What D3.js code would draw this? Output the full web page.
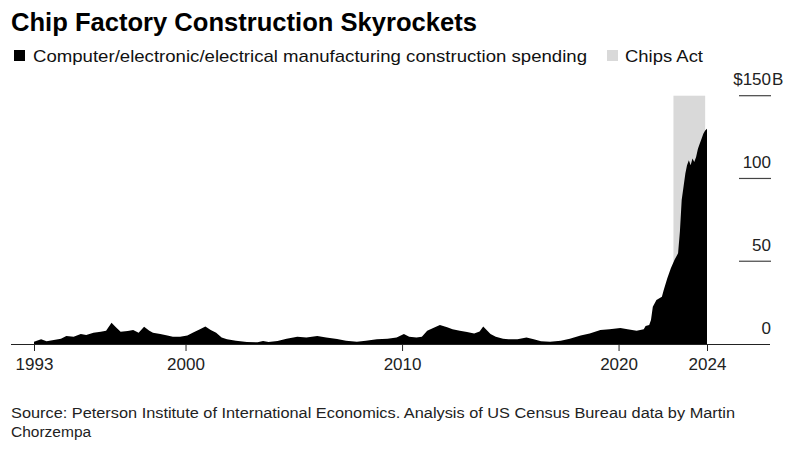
<!DOCTYPE html>
<html>
<head>
<meta charset="utf-8">
<script src="https://cdn.jsdelivr.net/npm/d3@7"></script>
<style>
  html, body { margin: 0; padding: 0; background: #fff; }
  svg { display: block; font-family: "Liberation Sans", Arial, Helvetica, sans-serif; }
</style>
</head>
<body>
<svg id="chart" width="800" height="456"></svg>
<script>
// ---- Data (monthly readings, $B) ----
const months = [
  "1993-01","1993-05","1993-08","1993-12","1994-04","1994-07","1994-11","1995-03","1995-06","1995-10",
  "1996-02","1996-05","1996-08","1996-10","1997-01","1997-05","1997-08","1997-11","1998-02","1998-05",
  "1998-07","1998-11","1999-03","1999-06","1999-10","2000-02","2000-05","2000-09","2000-12","2001-03",
  "2001-06","2001-09","2001-12","2002-05","2002-11","2003-05","2003-08","2003-11","2004-04","2004-09",
  "2005-03","2005-08","2006-02","2006-07","2007-01","2007-06","2007-12","2008-05","2008-11","2009-05",
  "2009-10","2010-02","2010-05","2010-09","2010-12","2011-03","2011-06","2011-10","2012-02","2012-05",
  "2012-09","2013-01","2013-05","2013-08","2013-10","2014-02","2014-05","2014-09","2014-12","2015-05",
  "2015-10","2016-02","2016-06","2016-11","2017-05","2017-10","2018-04","2018-09","2019-03","2019-08",
  "2020-02","2020-06","2020-11","2021-03","2021-04","2021-06","2021-07","2021-08","2021-10","2022-01",
  "2022-02","2022-04","2022-06","2022-08","2022-10","2022-11","2022-12","2023-01","2023-02","2023-03",
  "2023-04","2023-05","2023-06","2023-07","2023-08","2023-09","2023-10","2023-11","2023-12","2024-01",
  "2024-02"
];
const spending = [
  1.4, 2.8, 1.6, 2.4, 3.2, 4.8, 4.4, 6.0, 5.4, 6.8,
  7.4, 8.0, 12.9, 10.5, 7.4, 7.8, 8.4, 6.8, 10.4, 8.0,
  6.8, 6.0, 5.2, 4.4, 4.4, 5.2, 6.8, 8.9, 10.5, 8.4,
  6.8, 4.0, 2.8, 2.0, 1.2, 1.0, 1.8, 1.2, 1.8, 3.2,
  4.4, 4.0, 4.8, 4.0, 3.0, 2.0, 1.4, 2.0, 2.8, 3.2,
  4.0, 6.0, 4.4, 4.0, 4.4, 8.0, 9.5, 11.5, 10.1, 8.9,
  8.0, 7.2, 6.4, 7.6, 10.5, 6.0, 4.4, 3.2, 2.8, 2.8,
  4.0, 2.8, 1.6, 1.4, 2.0, 3.2, 5.2, 6.4, 8.4, 8.9,
  9.7, 8.9, 8.0, 8.9, 10.9, 11.5, 14.5, 22.5, 26.6, 28.6,
  32.6, 39.6, 45.7, 50.7, 54.8, 68, 87, 95, 103, 108,
  111, 108, 112, 110, 113, 118, 121, 124, 127, 129,
  130
];
const chipsAct = ["2022-07-15", "2024-01-01"];
const xTickDates = ["1993-01-01", "2000-01-01", "2010-01-01", "2020-01-01", "2024-02-01"];
const xTickLabels = ["1993", "2000", "2010", "2020", "2024"];
const yTicks = [0, 50, 100, 150];
const yTickLabels = ["0", "50", "100", "$150"];

const title = "Chip Factory Construction Skyrockets";
const legendLabels = ["Computer/electronic/electrical manufacturing construction spending", "Chips Act"];
const sourceLines = [
  "Source: Peterson Institute of International Economics. Analysis of US Census Bureau data by Martin",
  "Chorzempa"
];

// ---- Build ----
const parseM = d3.timeParse("%Y-%m");
const parseD = d3.timeParse("%Y-%m-%d");
const data = months.map((m, i) => ({ date: parseM(m), value: spending[i] }));

const svg = d3.select("#chart");

const x = d3.scaleTime()
  .domain([parseD("1993-01-01"), parseD("2024-02-01")])
  .range([34, 707]);
const y = d3.scaleLinear().domain([0, 150]).range([344, 95.7]);

// Title
svg.append("text")
  .attr("x", 11).attr("y", 31)
  .attr("font-size", 25).attr("font-weight", "bold")
  .attr("fill", "#000")
  .attr("textLength", 466).attr("lengthAdjust", "spacingAndGlyphs")
  .text(title);

// Legend
const lg = svg.append("g");
lg.append("rect").attr("x", 14).attr("y", 50).attr("width", 11).attr("height", 11).attr("fill", "#000");
lg.append("text").attr("x", 33).attr("y", 62).attr("font-size", 17).attr("fill", "#111")
  .attr("textLength", 554).attr("lengthAdjust", "spacingAndGlyphs")
  .text(legendLabels[0]);
lg.append("rect").attr("x", 607).attr("y", 50).attr("width", 11).attr("height", 11).attr("fill", "#d9d9d9");
lg.append("text").attr("x", 625).attr("y", 62).attr("font-size", 17).attr("fill", "#111")
  .attr("textLength", 78).attr("lengthAdjust", "spacingAndGlyphs")
  .text(legendLabels[1]);

// Chips Act shading
svg.append("rect")
  .attr("x", x(parseD(chipsAct[0])))
  .attr("y", y(150))
  .attr("width", x(parseD(chipsAct[1])) - x(parseD(chipsAct[0])))
  .attr("height", y(0) - y(150))
  .attr("fill", "#d9d9d9");

// Area
const area = d3.area()
  .x(d => x(d.date))
  .y0(y(0))
  .y1(d => y(d.value))
  .curve(d3.curveLinear);
svg.append("path").datum(data).attr("d", area).attr("fill", "#000");

// Y grid lines (short, right side) and labels
yTicks.forEach((t, i) => {
  if (t > 0) {
    svg.append("line")
      .attr("x1", 739).attr("x2", 771)
      .attr("y1", y(t)).attr("y2", y(t))
      .attr("stroke", "#444").attr("stroke-width", 1.2);
  }
  svg.append("text")
    .attr("x", 771).attr("y", y(t) - 10.5)
    .attr("font-size", 17).attr("fill", "#222")
    .attr("text-anchor", "end")
    .text(yTickLabels[i]);
  if (t === 150) {
    svg.append("text")
      .attr("x", 772).attr("y", y(t) - 10.5)
      .attr("font-size", 17).attr("fill", "#222")
      .text("B");
  }
});

// X axis baseline
svg.append("line")
  .attr("x1", 11).attr("x2", 770)
  .attr("y1", y(0) + 0.5).attr("y2", y(0) + 0.5)
  .attr("stroke", "#222").attr("stroke-width", 1);

// X axis ticks
const xAxis = d3.axisBottom(x)
  .tickValues(xTickDates.map(parseD))
  .tickSize(7)
  .tickPadding(7)
  .tickFormat((d, i) => xTickLabels[i]);
const gx = svg.append("g").attr("transform", `translate(0,${y(0)})`).call(xAxis);
gx.select(".domain").remove();
gx.selectAll(".tick line").attr("stroke", "#222");
gx.selectAll(".tick text")
  .attr("font-size", 17).attr("fill", "#222")
  .attr("font-family", "'Liberation Sans', Arial, sans-serif");

// Source
sourceLines.forEach((s, i) => {
  const t = svg.append("text")
    .attr("x", 11).attr("y", 418 + i * 19)
    .attr("font-size", 15.5).attr("fill", "#222")
    .text(s);
  if (i === 0) t.attr("textLength", 724).attr("lengthAdjust", "spacingAndGlyphs");
});
</script>
</body>
</html>
